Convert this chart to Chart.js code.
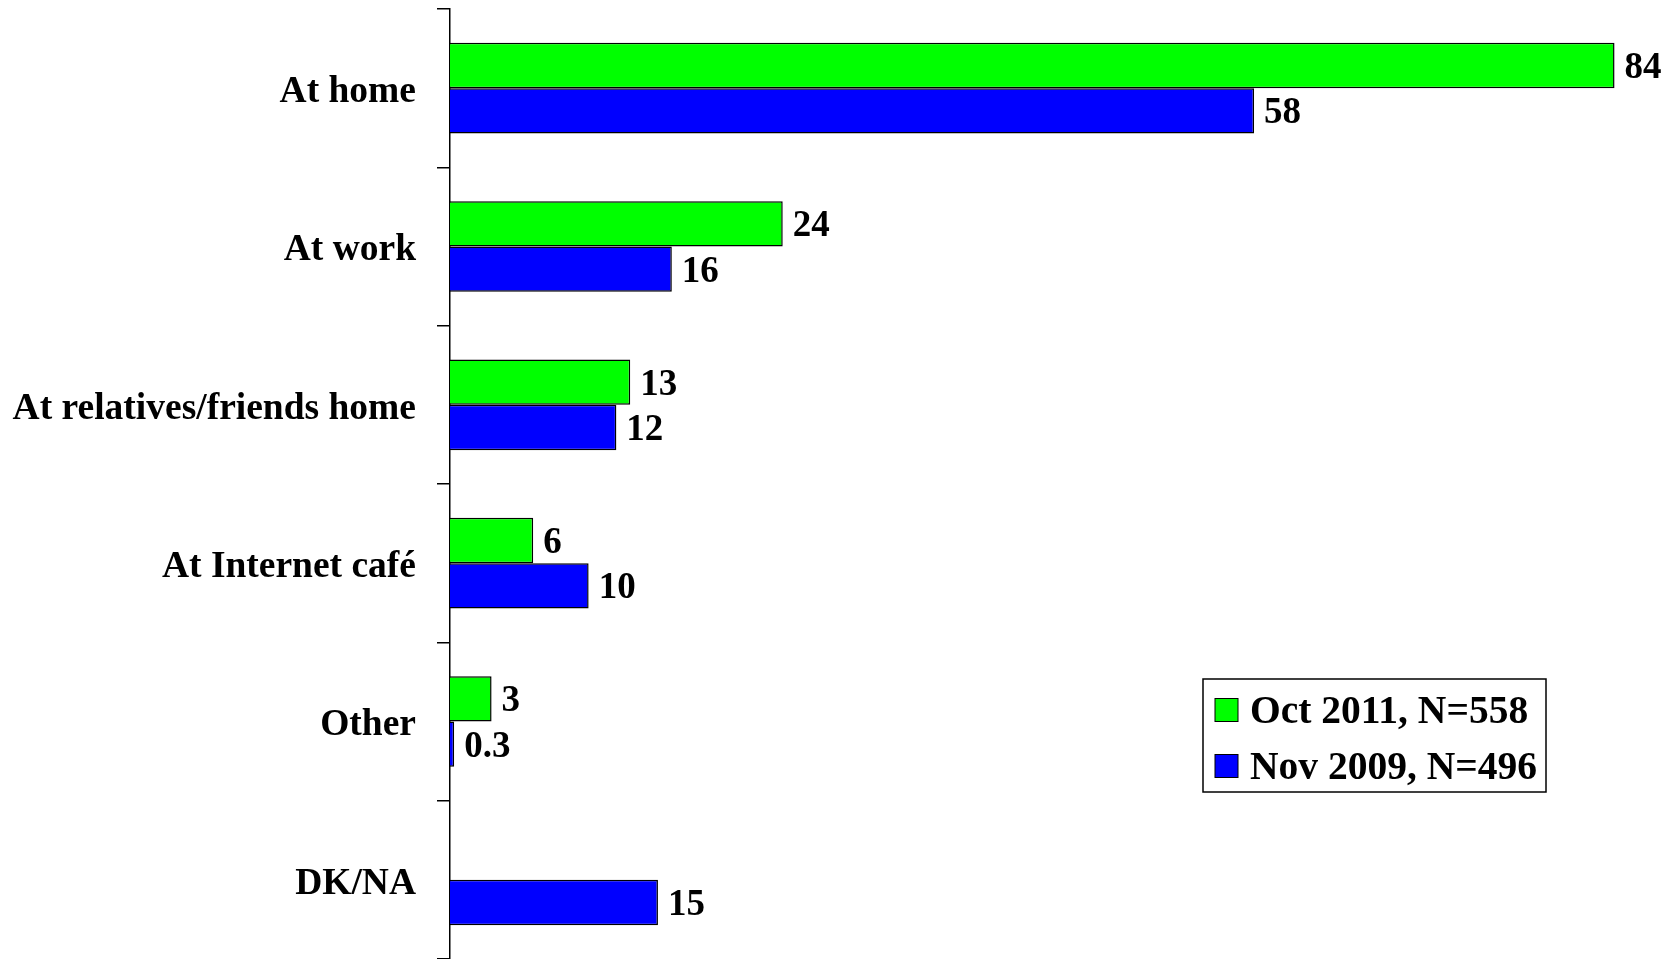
<!DOCTYPE html>
<html>
<head>
<meta charset="utf-8">
<script src="https://cdn.jsdelivr.net/npm/chart.js@4"></script>
<style>
  body { margin: 0; background: #fff; }
  canvas { display: block; }
</style>
</head>
<body>
<canvas id="placesChart" width="1677" height="959"></canvas>
<script>
const categories = ['At home', 'At work', 'At relatives/friends home', 'At Internet café', 'Other', 'DK/NA'];
const oct2011 = [84, 24, 13, 6, 3, null];
const nov2009 = [58, 16, 12, 10, 0.3, 15];
const seriesNames = ['Oct 2011, N=558', 'Nov 2009, N=496'];

const serif = "'Liberation Serif', 'Times New Roman', serif";

// values printed at the end of each bar
const valueLabels = {
    id: 'valueLabels',
    afterDatasetsDraw(chart) {
        const c = chart.ctx;
        c.save();
        c.font = 'bold 37px ' + serif;
        c.fillStyle = '#000';
        c.textAlign = 'left';
        c.textBaseline = 'middle';
        chart.data.datasets.forEach((ds, i) => {
            chart.getDatasetMeta(i).data.forEach((bar, j) => {
                const v = ds.data[j];
                if (v == null) return;
                c.fillText(String(v), bar.x + 10, bar.y + 3);
            });
        });
        c.restore();
    }
};

// boxed legend inside the plot, lower right
const boxLegend = {
    id: 'boxLegend',
    afterDraw(chart) {
        const c = chart.ctx;
        const area = chart.chartArea;
        const left = area.left + 753;
        const top = area.top + 670;
        const w = 343, h = 113;
        c.save();
        c.fillStyle = '#fff';
        c.fillRect(left, top, w, h);
        c.strokeStyle = '#000';
        c.lineWidth = 1.5;
        c.strokeRect(left, top, w, h);
        c.font = 'bold 39.5px ' + serif;
        c.textBaseline = 'middle';
        chart.data.datasets.forEach((ds, i) => {
            const y = top + 31 + i * 56;
            c.fillStyle = ds.backgroundColor;
            c.fillRect(left + 12, y - 11.5, 23, 23);
            c.lineWidth = 1;
            c.strokeRect(left + 12, y - 11.5, 23, 23);
            c.fillStyle = '#000';
            c.fillText(ds.label, left + 47, y + 3);
        });
        c.restore();
    }
};

const ctx = document.getElementById('placesChart');

const chart = new Chart(ctx, {
    type: 'bar',
    data: {
        labels: categories,
        datasets: [
            {
                label: seriesNames[0],
                data: oct2011,
                backgroundColor: '#00FF00',
                borderColor: '#000',
                borderWidth: 1.5
            },
            {
                label: seriesNames[1],
                data: nov2009,
                backgroundColor: '#0000FF',
                borderColor: '#000',
                borderWidth: 1.5
            }
        ]
    },
    options: {
        indexAxis: 'y',
        responsive: false,
        animation: false,
        devicePixelRatio: 1,
        layout: { padding: { top: 9, right: 7, bottom: 0, left: 0 } },
        datasets: {
            bar: { categoryPercentage: 0.573, barPercentage: 1.0 }
        },
        scales: {
            x: {
                display: false,
                min: 0,
                max: 88
            },
            y: {
                afterFit(scale) {
                    scale.width = 450;
                    scale.paddingTop = 0;
                    scale.paddingBottom = 0;
                },
                border: { display: true, color: '#000', width: 1.5 },
                grid: {
                    offset: true,
                    drawOnChartArea: false,
                    drawTicks: true,
                    tickLength: 13,
                    color: '#000',
                    lineWidth: 1.5
                },
                ticks: {
                    color: '#000',
                    padding: 21,
                    labelOffset: 4,
                    font: { family: serif, size: 37.5, weight: 'bold' }
                }
            }
        },
        plugins: {
            legend: { display: false },
            tooltip: { enabled: false }
        }
    },
    plugins: [valueLabels, boxLegend]
});
</script>
</body>
</html>
